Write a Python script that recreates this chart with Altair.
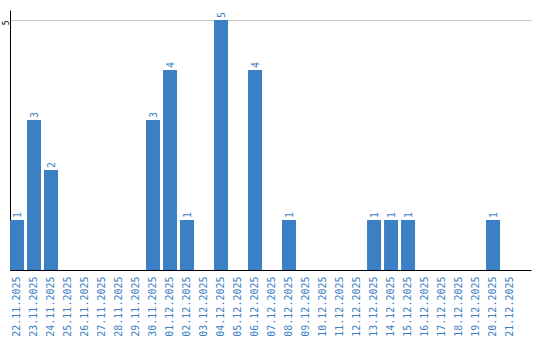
import altair as alt
import pandas as pd

dates = ["22.11.2025","23.11.2025","24.11.2025","25.11.2025","26.11.2025","27.11.2025",
         "28.11.2025","29.11.2025","30.11.2025","01.12.2025","02.12.2025","03.12.2025",
         "04.12.2025","05.12.2025","06.12.2025","07.12.2025","08.12.2025","09.12.2025",
         "10.12.2025","11.12.2025","12.12.2025","13.12.2025","14.12.2025","15.12.2025",
         "16.12.2025","17.12.2025","18.12.2025","19.12.2025","20.12.2025","21.12.2025"]
counts = [1,3,2,0,0,0,0,0,3,4,1,0,5,0,4,0,1,0,0,0,0,1,1,1,0,0,0,0,1,0]

df = pd.DataFrame({"date": dates, "count": counts})
df["label"] = [str(c) if c > 0 else "" for c in counts]

BLUE = "#3b7fc4"
FONT = "DejaVu Sans Mono"

xscale = alt.Scale(domain=dates, paddingInner=0.176, paddingOuter=0.41, align=0)
x = alt.X("date:N", sort=None, title=None, scale=xscale,
          axis=alt.Axis(labelAngle=-90, labelColor=BLUE, labelFont=FONT, labelFontSize=10,
                        ticks=False, labelPadding=6, domainColor="black", labelOverlap=False))
y = alt.Y("count:Q", title=None,
          scale=alt.Scale(domain=[0, 5.2], nice=False),
          axis=alt.Axis(values=[5], labelAngle=-90, labelFont=FONT, labelFontSize=8,
                        labelColor="black", ticks=False, labelPadding=2, domainColor="black",
                        gridColor="#c8c8c8", labelAlign="right", labelBaseline="alphabetic"))

base = alt.Chart(df)
bars = base.mark_bar(color=BLUE).encode(x=x, y=y)
text = base.transform_filter("datum.count > 0").mark_text(
    angle=270, align="left", baseline="middle", dx=2, dy=1, color=BLUE, font=FONT, fontSize=10
).encode(x=alt.X("date:N", sort=None, scale=xscale), y="count:Q", text="label:N")

chart = (bars + text).properties(
    width=521, height=260,
    autosize=alt.AutoSizeParams(type="none"),
    padding={"left": 10, "top": 10, "right": 9, "bottom": 70}
).configure_view(stroke=None)

chart.save("out.html", embed_options={"renderer": "svg", "actions": False})
